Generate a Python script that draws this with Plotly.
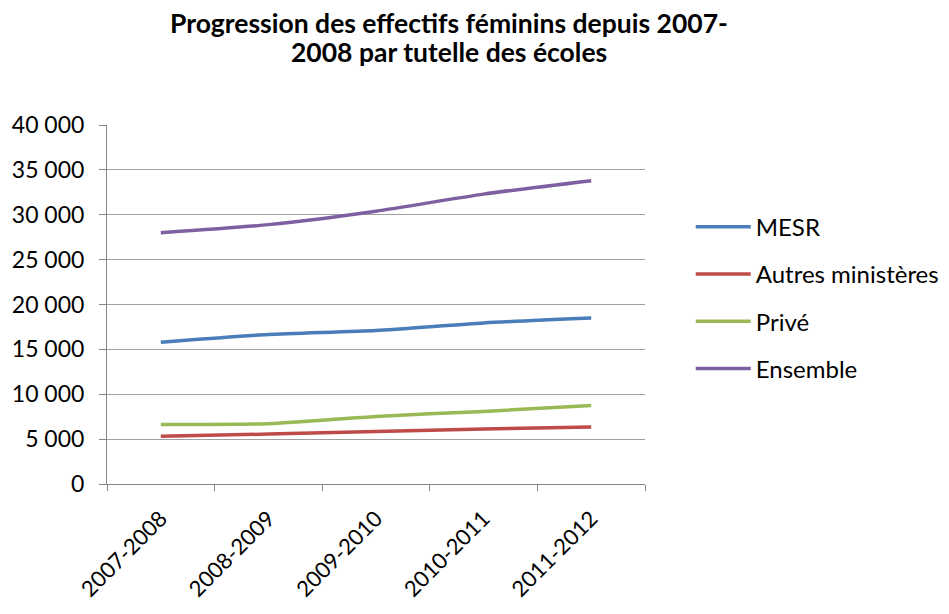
import plotly.graph_objects as go

categories = ["2007-2008", "2008-2009", "2009-2010", "2010-2011", "2011-2012"]
mesr = [15800, 16650, 17100, 17950, 18500]
autres = [5330, 5560, 5860, 6120, 6340]
prive = [6640, 6720, 7530, 8090, 8760]
ensemble = [28000, 28900, 30400, 32300, 33800]

series = [
    ("MESR", mesr, "#4A7EBB"),
    ("Autres ministères", autres, "#BE4B48"),
    ("Privé", prive, "#98B954"),
    ("Ensemble", ensemble, "#7D60A0"),
]

font_family = "Lato, 'Open Sans', sans-serif"
title_lines = ["Progression des effectifs féminins depuis 2007-",
               "2008 par tutelle des écoles"]

fig = go.Figure()
for i, (name, vals, color) in enumerate(series):
    fig.add_trace(go.Scatter(
        x=categories, y=vals, name=name, mode="lines",
        line=dict(color=color, width=3.5, shape="spline", smoothing=0.6),
        legendgroup=f"g{i}",
    ))

annotations = []
for line, ypos in zip(title_lines, [1.285, 1.2033]):
    annotations.append(dict(
        text=f"<b>{line}</b>", xref="paper", yref="paper",
        x=0.636, y=ypos, xanchor="center", yanchor="middle",
        showarrow=False, font=dict(size=26.5, family=font_family),
    ))

fig.update_layout(
    width=941, height=606,
    paper_bgcolor="white", plot_bgcolor="white",
    margin=dict(l=99, r=304, t=117, b=130, autoexpand=False),
    separators=", ",
    font=dict(family=font_family, size=22, color="#000000"),
    showlegend=True,
    legend=dict(
        x=1.085, xanchor="left", y=0.778, yanchor="top",
        font=dict(size=24), itemwidth=55, tracegroupgap=13,
        bgcolor="rgba(0,0,0,0)",
    ),
    annotations=annotations,
    xaxis=dict(
        type="category", range=[-0.5, 4.5], automargin=False,
        showgrid=False, showline=True, linecolor="#868686", linewidth=1,
        ticks="outside", tickson="boundaries", ticklen=6, tickcolor="#868686",
        tickangle=-45, tickfont=dict(size=22), zeroline=False,
        ticklabelstandoff=12,
    ),
    yaxis=dict(
        range=[0, 40000], dtick=5000, tickformat=",d", automargin=False,
        showgrid=True, gridcolor="#A0A0A0", gridwidth=1,
        showline=True, linecolor="#868686", linewidth=1,
        ticks="outside", ticklen=7, tickcolor="#868686",
        ticklabelstandoff=10,
        tickfont=dict(size=23), zeroline=False,
    ),
)

fig.write_html("out.html")
